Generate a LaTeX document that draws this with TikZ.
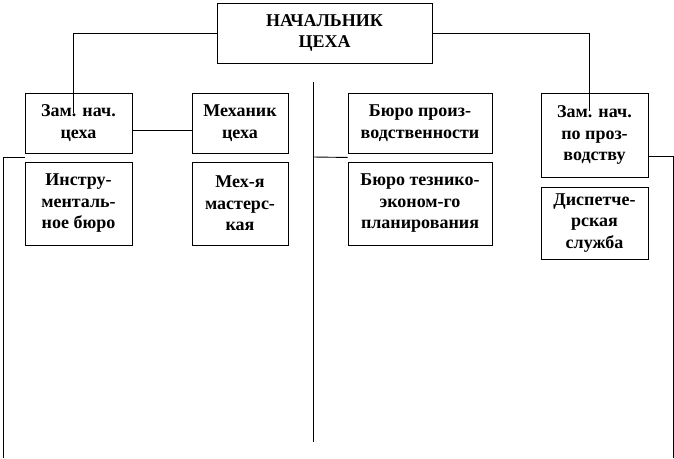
\documentclass[tikz,border=0pt]{standalone}
\usepackage{fontspec}
\setmainfont{Liberation Serif}
\begin{document}
\begin{tikzpicture}[x=1pt,y=-1pt,line width=.9pt,
  box/.style={draw,align=center,inner sep=1pt,font=\fontsize{18}{21.5}\selectfont\bfseries}]
\useasboundingbox (0,0) rectangle (674,458);
\node[box,minimum width=215pt,minimum height=60pt] (chief) at (324.5,33) {НАЧАЛЬНИК\\ЦЕХА};

\node[box,minimum width=107pt,minimum height=60pt] (zam1) at (78.5,123) {Зам. нач.\\цеха};
\node[box,minimum width=96pt,minimum height=60pt] (mech) at (240,123) {Механик\\цеха};
\node[box,minimum width=107pt,minimum height=83pt] (instr) at (78.5,203.5) {Инстру-\\менталь-\\ное бюро};
\node[box,minimum width=96pt,minimum height=83pt] (mexw) at (240,203.5) {Мех-я\\мастерс-\\кая};

\node[box,minimum width=144pt,minimum height=60pt] (bpr) at (420,123) {Бюро произ-\\водственности};
\node[box,minimum width=144pt,minimum height=83pt] (bten) at (420,203.5) {Бюро тезнико-\\эконом-го\\планирования};

\node[box,minimum width=107pt,minimum height=84pt] (zam2) at (594.5,135) {Зам. нач.\\по проз-\\водству};
\node[box,minimum width=107pt,minimum height=72pt] (disp) at (594.5,223) {Диспетче-\\рская\\служба};

\coordinate (lbot) at (3,458);
\coordinate (rbot) at (673,458);
\coordinate (ctop) at (313,82);
\coordinate (cbot) at (313,442);
\coordinate (cmid) at (313,157);

\draw (chief.west) -| ([xshift=-5.5pt,yshift=-20pt]zam1.north);
\draw (chief.east) -| ([xshift=-5.5pt,yshift=-18pt]zam2.north);
\draw ([yshift=-7.5pt]zam1.east) -- ([yshift=-7.5pt]mech.west);
\draw ([yshift=-4pt]zam1.south west) -| (lbot);
\draw (ctop) -- (cbot);
\draw (cmid) -- ([yshift=-4pt]bpr.south west);
\draw ([yshift=-21pt]zam2.east) -| (rbot);
\end{tikzpicture}
\end{document}
